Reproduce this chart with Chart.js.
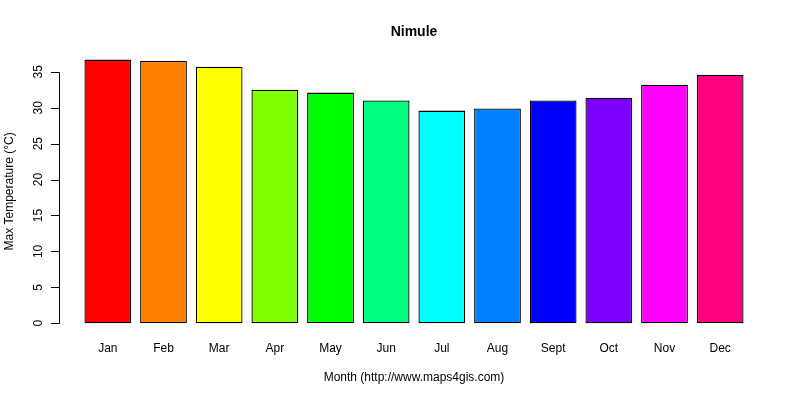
<!DOCTYPE html>
<html>
<head>
<meta charset="utf-8">
<script src="https://cdn.jsdelivr.net/npm/chart.js@4"></script>
<style>
  html, body { margin: 0; padding: 0; background: #fff; }
  #wrap { width: 800px; height: 400px; }
</style>
</head>
<body>
<div id="wrap"><canvas id="myChart"></canvas></div>
<script>
var months = ["Jan", "Feb", "Mar", "Apr", "May", "Jun", "Jul", "Aug", "Sept", "Oct", "Nov", "Dec"];
var maxTemp = [36.7, 36.5, 35.7, 32.5, 32.1, 31.0, 29.6, 29.9, 31.0, 31.4, 33.2, 34.6];
var barColors = ['#FF0000', '#FF8000', '#FFFF00', '#80FF00', '#00FF00', '#00FF80',
                 '#00FFFF', '#0080FF', '#0000FF', '#8000FF', '#FF00FF', '#FF0080'];
var yTicks = [0, 5, 10, 15, 20, 25, 30, 35];

var FONT = "'Liberation Sans', Arial, sans-serif";

// R-style y axis: line only from first to last tick, sitting left of the bars
var rAxis = {
    id: 'rAxis',
    afterDraw: function (chart) {
        var y = chart.scales.y;
        var ctx = chart.ctx;
        var x0 = chart.chartArea.left - 21;
        ctx.save();
        ctx.strokeStyle = '#000';
        ctx.lineWidth = 1;
        ctx.beginPath();
        ctx.moveTo(x0 + 0.5, Math.round(y.getPixelForValue(yTicks[0])) + 0.5);
        ctx.lineTo(x0 + 0.5, Math.round(y.getPixelForValue(yTicks[yTicks.length - 1])) + 0.5);
        yTicks.forEach(function (v) {
            var py = Math.round(y.getPixelForValue(v)) + 0.5;
            ctx.moveTo(x0 + 0.5, py);
            ctx.lineTo(x0 - 8, py);
        });
        ctx.stroke();
        ctx.restore();
    }
};

var ctx = document.getElementById('myChart').getContext('2d');
var chart = new Chart(ctx, {
    type: 'bar',
    data: {
        labels: months,
        datasets: [
            {
                label: "Max Temperature",
                backgroundColor: barColors,
                borderColor: '#000',
                borderWidth: 1.3,
                borderSkipped: false,
                categoryPercentage: 1,
                barPercentage: 0.84,
                data: maxTemp
            }
        ]
    },
    options: {
        responsive: true,
        maintainAspectRatio: false,
        animation: false,
        layout: { padding: { left: 0, right: 52, top: 0, bottom: 0 } },
        plugins: {
            legend: { display: false },
            tooltip: { enabled: false },
            title: {
                display: true,
                text: 'Nimule',
                fullSize: false,
                color: '#000',
                font: { family: FONT, size: 14, weight: 'bold' },
                padding: { top: 24, bottom: 8 }
            }
        },
        scales: {
            x: {
                grid: { display: false, drawTicks: false },
                border: { display: false },
                ticks: {
                    color: '#000',
                    font: { family: FONT, size: 12 },
                    padding: 7,
                    maxRotation: 0,
                    autoSkip: false
                },
                title: {
                    display: true,
                    text: 'Month (http://www.maps4gis.com)',
                    color: '#000',
                    font: { family: FONT, size: 12 },
                    padding: { top: 10, bottom: 15 }
                },
                afterFit: function (scale) { scale.height = 66; }
            },
            y: {
                min: -1.5,
                max: 38.2,
                grid: { display: false, drawTicks: false },
                border: { display: false },
                ticks: {
                    color: '#000',
                    font: { family: FONT, size: 12 },
                    minRotation: 90,
                    maxRotation: 90,
                    crossAlign: 'center',
                    padding: 35
                },
                afterBuildTicks: function (scale) {
                    scale.ticks = yTicks.map(function (v) { return { value: v }; });
                },
                title: {
                    display: true,
                    text: 'Max Temperature (°C)',
                    color: '#000',
                    font: { family: FONT, size: 12 },
                    padding: { top: 2, bottom: 0 }
                },
                afterFit: function (scale) { scale.width = 80; }
            }
        }
    },
    plugins: [rAxis]
});
</script>
</body>
</html>
